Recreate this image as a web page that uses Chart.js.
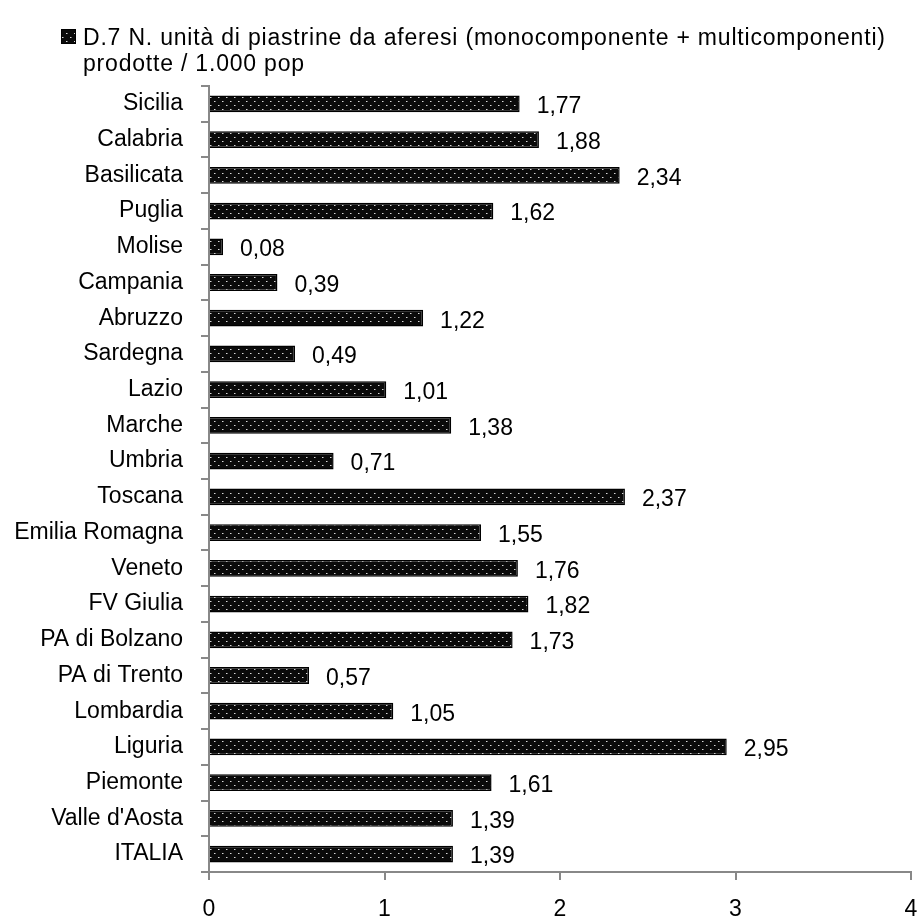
<!DOCTYPE html>
<html>
<head>
<meta charset="utf-8">
<script src="https://cdn.jsdelivr.net/npm/chart.js@4.4.0/dist/chart.umd.min.js"></script>
<style>
  html, body { margin: 0; padding: 0; background: #fff; }
  #wrap { width: 922px; height: 921px; }
</style>
</head>
<body>
<div id="wrap"><canvas id="platelets" width="922" height="921"></canvas></div>
<script>
// Regioni e valori (unità / 1.000 pop)
const regioni = [
  "Sicilia", "Calabria", "Basilicata", "Puglia", "Molise", "Campania",
  "Abruzzo", "Sardegna", "Lazio", "Marche", "Umbria", "Toscana",
  "Emilia Romagna", "Veneto", "FV Giulia", "PA di Bolzano", "PA di Trento",
  "Lombardia", "Liguria", "Piemonte", "Valle d'Aosta", "ITALIA"
];
const valori = [
  1.77, 1.88, 2.34, 1.62, 0.08, 0.39,
  1.22, 0.49, 1.01, 1.38, 0.71, 2.37,
  1.55, 1.76, 1.82, 1.73, 0.57,
  1.05, 2.95, 1.61, 1.39, 1.39
];
const xTicks = [0, 1, 2, 3, 4];
const legendLines = [
  "D.7 N. unità di piastrine da aferesi (monocomponente + multicomponenti)",
  "prodotte / 1.000 pop"
];

const FONT = "'Liberation Sans', sans-serif";

// motivo a puntini per le barre
function dotPattern(ctx) {
  const c = document.createElement("canvas");
  c.width = 8; c.height = 8;
  const p = c.getContext("2d");
  p.fillStyle = "#0a0a0a";
  p.fillRect(0, 0, 8, 8);
  p.fillStyle = "#d8d8d8";
  p.fillRect(2, 1, 1, 1);
  p.fillRect(6, 5, 1, 1);
  p.fillStyle = "#707070";
  p.fillRect(3, 1, 1, 1);
  p.fillRect(7, 5, 1, 1);
  return ctx.createPattern(c, "repeat");
}

const ctx = document.getElementById("platelets").getContext("2d");
const pattern = dotPattern(ctx);

// etichette dei valori a destra delle barre
const valueLabels = {
  id: "valueLabels",
  afterDatasetsDraw(chart) {
    const c = chart.ctx;
    const meta = chart.getDatasetMeta(0);
    c.save();
    c.font = "23px " + FONT;
    c.fillStyle = "#000";
    c.textBaseline = "middle";
    c.textAlign = "left";
    meta.data.forEach((bar, i) => {
      const txt = valori[i].toFixed(2).replace(".", ",");
      c.fillText(txt, bar.x + 17, bar.y + 3);
    });
    c.restore();
  }
};

// legenda su due righe in alto
const topLegend = {
  id: "topLegend",
  afterDraw(chart) {
    const c = chart.ctx;
    c.save();
    c.fillStyle = pattern;
    c.fillRect(61, 29, 15, 15);
    c.strokeStyle = "#000";
    c.lineWidth = 1;
    c.strokeRect(61.5, 29.5, 14, 14);
    c.font = "23px " + FONT;
    c.letterSpacing = "0.8px";
    c.fillStyle = "#000";
    c.textBaseline = "alphabetic";
    c.fillText(legendLines[0], 83, 45);
    c.fillText(legendLines[1], 83, 71);
    c.restore();
  }
};

new Chart(ctx, {
  type: "bar",
  data: {
    labels: regioni,
    datasets: [{
      label: legendLines.join(" "),
      data: valori,
      backgroundColor: pattern,
      borderColor: "#000",
      borderWidth: 1.5,
      categoryPercentage: 0.47,
      barPercentage: 1.0
    }]
  },
  options: {
    indexAxis: "y",
    responsive: false,
    animation: false,
    layout: { padding: { top: 86, right: 11, left: 0, bottom: 0 } },
    plugins: {
      legend: { display: false },
      tooltip: { enabled: false }
    },
    scales: {
      x: {
        min: 0,
        max: 4,
        afterBuildTicks(scale) {
          scale.ticks = xTicks.map(v => ({ value: v }));
        },
        afterFit(scale) {
          scale.height = 49;
          // l'etichetta "4" può sporgere oltre il bordo destro
          scale.paddingRight = 0;
          scale.paddingLeft = 0;
        },
        border: { color: "#888", width: 2 },
        grid: { drawOnChartArea: false, drawTicks: true, tickLength: 8, color: "#888", lineWidth: 2 },
        ticks: {
          color: "#000",
          font: { family: FONT, size: 23 },
          padding: 16
        }
      },
      y: {
        afterFit(scale) { scale.width = 209; },
        border: { color: "#888", width: 2 },
        grid: { drawOnChartArea: false, drawTicks: true, tickLength: 8, color: "#888", lineWidth: 2, offset: true },
        ticks: {
          color: "#000",
          font: { family: FONT, size: 23 },
          padding: 18
        }
      }
    }
  },
  plugins: [valueLabels, topLegend]
});
</script>
</body>
</html>
